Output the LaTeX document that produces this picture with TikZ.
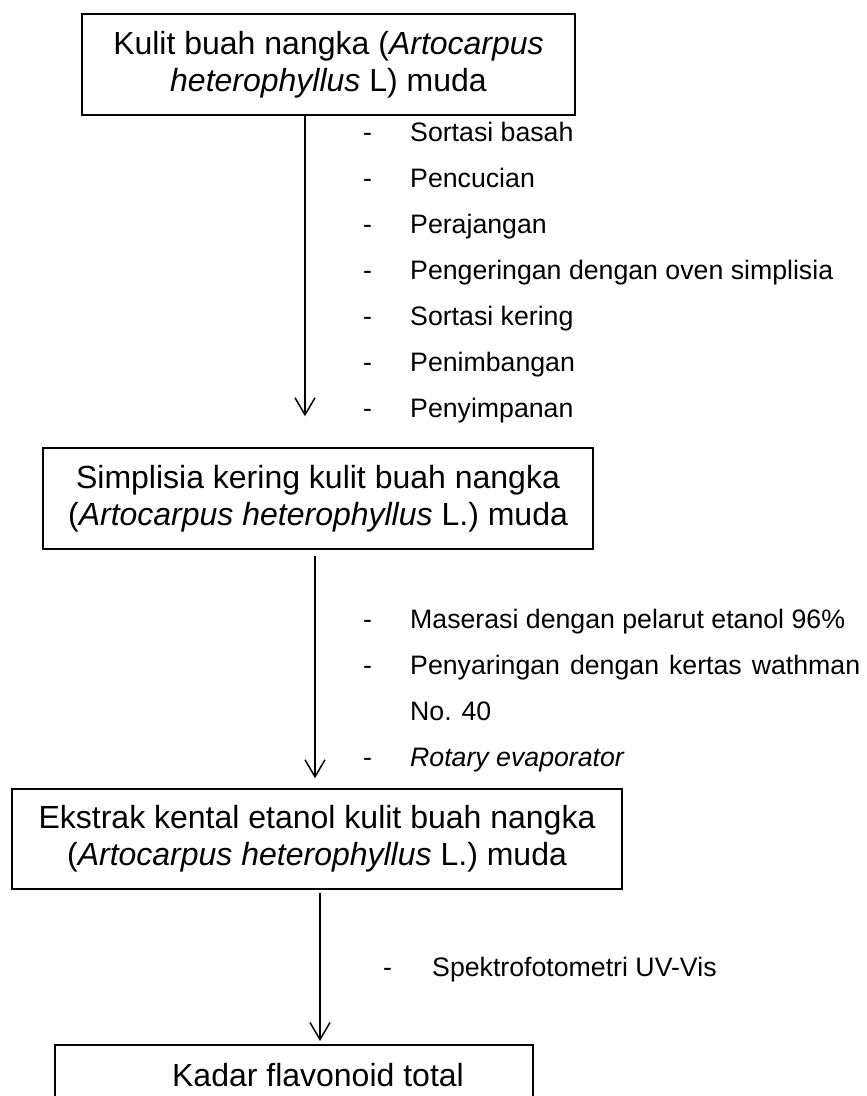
\documentclass[tikz,border=0pt]{standalone}
\usepackage{fontspec}
\setmainfont{Liberation Sans}
\usepackage{tikz}
\usetikzlibrary{arrows.meta}
\tikzstyle{box}=[draw, line width=1.5pt, align=center, inner sep=0pt, font=\fontsize{32}{37}\selectfont]
\tikzstyle{proc}=[anchor=base west, inner sep=0pt, font=\fontsize{26.7}{32}\selectfont]
\tikzstyle{flow}=[line width=1.5pt, -{Straight Barb[length=17pt,width=20pt]}]
\newcommand{\itemdash}{\makebox[47pt][l]{-}}

\begin{document}
\begin{tikzpicture}[x=1pt,y=-1pt]
    \useasboundingbox (0,0) rectangle (867,1096);
    \clip (0,0) rectangle (867,1096);
    % boxes
    \node[box, minimum width=493pt, minimum height=101pt] (kulit) at (328.5,64.5) {Kulit buah nangka (\textit{Artocarpus}\\\textit{heterophyllus} L) muda};
    \node[box, minimum width=550pt, minimum height=101pt] (simplisia) at (318,498.5) {Simplisia kering kulit buah nangka\\(\textit{Artocarpus heterophyllus} L.) muda};
    \node[box, minimum width=610pt, minimum height=100pt] (ekstrak) at (317,839) {Ekstrak kental etanol kulit buah nangka\\(\textit{Artocarpus heterophyllus} L.) muda};
    \node[box, minimum width=478pt, minimum height=60pt, anchor=north] (kadar) at (294,1044) {\hspace*{48pt}Kadar flavonoid total};
    % arrows
    \coordinate (x1) at (305,0);
    \coordinate (x2) at (315,0);
    \coordinate (x3) at (320,0);
    \draw[flow, shorten >=31pt] (kulit.south -| x1) -- (simplisia.north -| x1);
    \draw[flow, shorten <=6pt, shorten >=10pt] (simplisia.south -| x2) -- (ekstrak.north -| x2);
    \draw[flow, shorten <=3pt, shorten >=3pt] (ekstrak.south -| x3) -- (kadar.north -| x3);
    % steps
    \foreach \txt [count=\i from 0] in {Sortasi basah, Pencucian, Perajangan, Pengeringan dengan oven simplisia, Sortasi kering, Penimbangan, Penyimpanan}
        \node[proc] (a\i) at (363,{141+46*\i}) {\itemdash\txt};
    \node[proc] (b0) at (363,628) {\itemdash Maserasi dengan pelarut etanol 96\%};
    \node[proc] (b1) at (363,674) {\itemdash\makebox[450pt][s]{Penyaringan dengan kertas wathman}};
    \node[proc] (b2) at (410,720) {No. 40};
    \node[proc] (b3) at (363,766) {\itemdash\textit{Rotary evaporator}};
    \node[proc] (c0) at (383,976) {\makebox[49pt][l]{-}Spektrofotometri UV-Vis};
\end{tikzpicture}
\end{document}
